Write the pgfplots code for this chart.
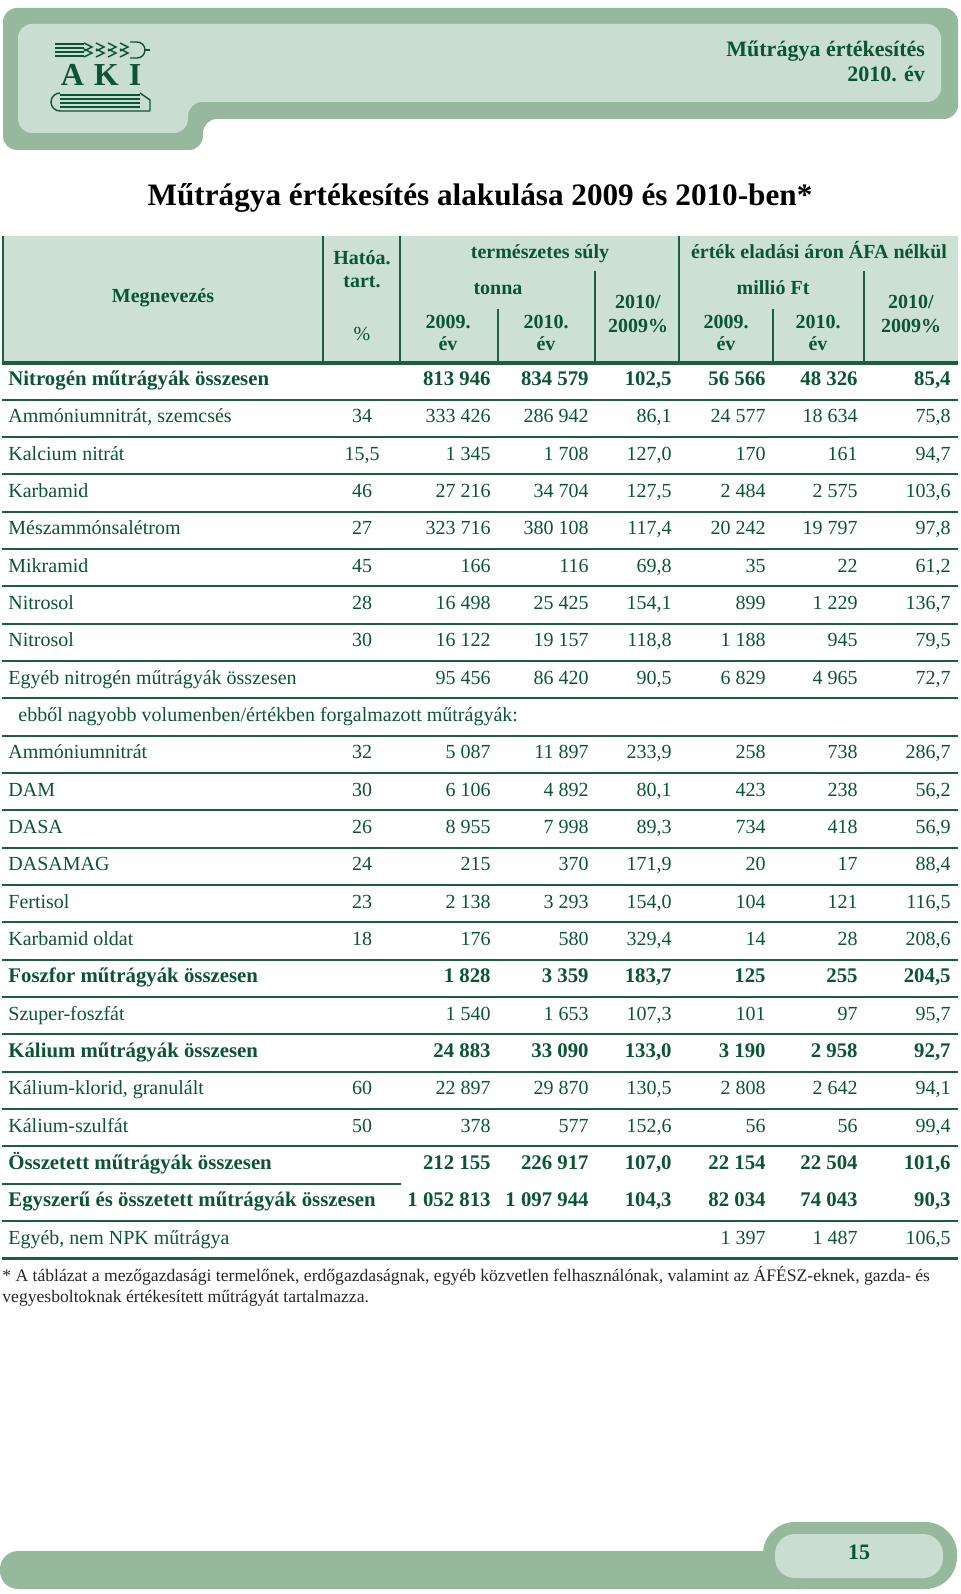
\documentclass[border=0pt]{standalone}
\usepackage{fontspec}
\setmainfont{Liberation Serif}
\usepackage{pgfplots}
\usepackage{pgfplotstable}
\pgfplotsset{compat=1.18}

\definecolor{tgreen}{HTML}{0A5532}
\definecolor{rule}{HTML}{1E5E3E}
\definecolor{band}{HTML}{96B99E}
\definecolor{bandin}{HTML}{C9DED0}
\definecolor{headbg}{HTML}{CDE0D4}

% rows: r = row index (0 = first row under the header)
\pgfplotstableread[col sep=semicolon]{
r;name;hat;ta;tb;tc;va;vb;vc
1;Ammóniumnitrát, szemcsés;34;333 426;286 942;86,1;24 577;18 634;75,8
2;Kalcium nitrát;15,5;1 345;1 708;127,0;170;161;94,7
3;Karbamid;46;27 216;34 704;127,5;2 484;2 575;103,6
4;Mészammónsalétrom;27;323 716;380 108;117,4;20 242;19 797;97,8
5;Mikramid;45;166;116;69,8;35;22;61,2
6;Nitrosol;28;16 498;25 425;154,1;899;1 229;136,7
7;Nitrosol;30;16 122;19 157;118,8;1 188;945;79,5
8;Egyéb nitrogén műtrágyák összesen;{};95 456;86 420;90,5;6 829;4 965;72,7
10;Ammóniumnitrát;32;5 087;11 897;233,9;258;738;286,7
11;DAM;30;6 106;4 892;80,1;423;238;56,2
12;DASA;26;8 955;7 998;89,3;734;418;56,9
13;DASAMAG;24;215;370;171,9;20;17;88,4
14;Fertisol;23;2 138;3 293;154,0;104;121;116,5
15;Karbamid oldat;18;176;580;329,4;14;28;208,6
17;Szuper-foszfát;{};1 540;1 653;107,3;101;97;95,7
19;Kálium-klorid, granulált;60;22 897;29 870;130,5;2 808;2 642;94,1
20;Kálium-szulfát;50;378;577;152,6;56;56;99,4
23;Egyéb, nem NPK műtrágya;{};{};{};{};1 397;1 487;106,5
}\rowsnormal

\pgfplotstableread[col sep=semicolon]{
r;name;hat;ta;tb;tc;va;vb;vc
0;Nitrogén műtrágyák összesen;{};813 946;834 579;102,5;56 566;48 326;85,4
16;Foszfor műtrágyák összesen;{};1 828;3 359;183,7;125;255;204,5
18;Kálium műtrágyák összesen;{};24 883;33 090;133,0;3 190;2 958;92,7
21;Összetett műtrágyák összesen;{};212 155;226 917;107,0;22 154;22 504;101,6
22;Egyszerű és összetett műtrágyák összesen;{};1 052 813;1 097 944;104,3;82 034;74 043;90,3
}\rowsbold

\pgfplotsset{
  cell/.style 2 args={draw=none, mark=none, nodes near coords,
    point meta=explicit symbolic,
    every node near coord/.append style={inner sep=0pt, text=tgreen,
      font=#2, anchor=#1}},
}
\newcommand\bodyfont{\fontsize{10}{12}\selectfont}
\newcommand\boldfont{\fontsize{10.4}{12}\selectfont\bfseries}
\newcommand\rowy{381+37.33*\thisrow{r}}

\newcommand\tablerows[2]{%
  \addplot[cell={mid west}{#2}] table[x expr=8, y expr=\rowy, meta=name]{#1};
  \addplot[cell={mid}{#2}] table[x expr=362, y expr=\rowy, meta=hat]{#1};
  \addplot[cell={mid east}{#2}] table[x expr=491, y expr=\rowy, meta=ta]{#1};
  \addplot[cell={mid east}{#2}] table[x expr=589, y expr=\rowy, meta=tb]{#1};
  \addplot[cell={mid east}{#2}] table[x expr=672, y expr=\rowy, meta=tc]{#1};
  \addplot[cell={mid east}{#2}] table[x expr=766, y expr=\rowy, meta=va]{#1};
  \addplot[cell={mid east}{#2}] table[x expr=858, y expr=\rowy, meta=vb]{#1};
  \addplot[cell={mid east}{#2}] table[x expr=951, y expr=\rowy, meta=vc]{#1};
}

\begin{document}
\begin{tikzpicture}
\begin{axis}[
  width=480pt, height=797pt, scale only axis,
  xmin=0, xmax=960, ymin=0, ymax=1594, y dir=reverse,
  hide axis, clip=false,
]
\path (axis cs:0,0) rectangle (axis cs:960,1594);

% header band
\fill[band, rounded corners=7pt] (axis cs:3,8) -- (axis cs:958,8) -- (axis cs:958,119)
  -- (axis cs:203,119) -- (axis cs:203,150) -- (axis cs:3,150) -- cycle;
\fill[bandin, rounded corners=7pt] (axis cs:18,24) -- (axis cs:941,24) -- (axis cs:941,102)
  -- (axis cs:188,102) -- (axis cs:188,133) -- (axis cs:18,133) -- cycle;

% logo
\pgfplotsinvokeforeach{44,48,52,56}{
  \draw[tgreen, line width=0.7pt] (axis cs:55,#1) -- (axis cs:84,#1);
}
\pgfplotsinvokeforeach{84,96,108,120}{
  \draw[tgreen, line width=0.7pt] (axis cs:#1,43) -- (axis cs:{#1+8},47) -- (axis cs:#1,51)
    (axis cs:#1,49) -- (axis cs:{#1+8},53) -- (axis cs:#1,57);
}
\draw[tgreen, line width=0.7pt] (axis cs:130,42) -- (axis cs:137,42) arc[start angle=90, end angle=-90, radius=4pt] -- (axis cs:130,58);
\draw[tgreen, line width=0.7pt] (axis cs:145,50) -- (axis cs:150,50);
\node[text=tgreen, font=\fontsize{16}{16}\selectfont\bfseries, anchor=base, inner sep=0pt] at (axis cs:101,86) {A\hspace{5pt}K\hspace{5pt}I};
\pgfplotsinvokeforeach{95,99,103,107}{
  \draw[tgreen, line width=0.7pt] (axis cs:60,#1) -- (axis cs:140,#1);
}
\draw[tgreen, line width=0.7pt] (axis cs:60,93) arc[start angle=90, end angle=270, radius=4.5pt] -- (axis cs:150,111);
\draw[tgreen, line width=0.7pt] (axis cs:140,93) -- (axis cs:150,100) -- (axis cs:150,111);

\node[text=tgreen, font=\fontsize{11}{13}\selectfont\bfseries, anchor=mid east] at (axis cs:932,52) {Műtrágya értékesítés};
\node[text=tgreen, font=\fontsize{11}{13}\selectfont\bfseries, anchor=mid east] at (axis cs:932,77) {2010. év};

% title
\node[font=\fontsize{15.6}{17}\selectfont\bfseries, anchor=mid] at (axis cs:480,201) {Műtrágya értékesítés alakulása 2009 és 2010-ben*};

% table header
\fill[headbg] (axis cs:2,236) rectangle (axis cs:958,363);
\begin{scope}[rule, line width=0.7pt]
  \draw (axis cs:3,236) -- (axis cs:3,363);
  \draw (axis cs:323,236) -- (axis cs:323,363);
  \draw (axis cs:400,236) -- (axis cs:400,363);
  \draw (axis cs:679,236) -- (axis cs:679,363);
  \draw (axis cs:595,271) -- (axis cs:595,363);
  \draw (axis cs:864,271) -- (axis cs:864,363);
  \draw (axis cs:498,309) -- (axis cs:498,363);
  \draw (axis cs:773,309) -- (axis cs:773,363);
\end{scope}
\draw[rule, line width=1.6pt] (axis cs:2,363) -- (axis cs:958,363);

\begin{scope}[every node/.style={text=tgreen, font=\fontsize{10}{11}\selectfont\bfseries, anchor=mid, inner sep=0pt}]
  \node at (axis cs:163,298) {Megnevezés};
  \node at (axis cs:362,260) {Hatóa.};
  \node at (axis cs:362,283) {tart.};
  \node[font=\fontsize{10}{11}\selectfont] at (axis cs:362,336) {\%};
  \node at (axis cs:540,254) {természetes súly};
  \node at (axis cs:498,290) {tonna};
  \node at (axis cs:448,324) {2009.};
  \node at (axis cs:448,346) {év};
  \node at (axis cs:546,324) {2010.};
  \node at (axis cs:546,346) {év};
  \node at (axis cs:638,304) {2010/};
  \node at (axis cs:638,328) {2009\%};
  \node at (axis cs:819,254) {érték eladási áron ÁFA nélkül};
  \node at (axis cs:773,290) {millió Ft};
  \node at (axis cs:726,324) {2009.};
  \node at (axis cs:726,346) {év};
  \node at (axis cs:818,324) {2010.};
  \node at (axis cs:818,346) {év};
  \node at (axis cs:911,304) {2010/};
  \node at (axis cs:911,328) {2009\%};
\end{scope}

% row rules
\pgfplotsinvokeforeach{0,...,20,22}{
  \draw[rule, line width=1pt] (axis cs:2,{381+37.33*(#1+0.5)}) -- (axis cs:958,{381+37.33*(#1+0.5)});
}
\draw[rule, line width=1pt] (axis cs:2,{381+37.33*21.5}) -- (axis cs:401,{381+37.33*21.5});
\draw[rule, line width=1.5pt] (axis cs:2,{381+37.33*23.5}) -- (axis cs:958,{381+37.33*23.5});

% table body
\tablerows{\rowsnormal}{\bodyfont}
\tablerows{\rowsbold}{\boldfont}
\node[text=tgreen, font=\bodyfont, anchor=mid west, inner sep=0pt] at (axis cs:18,{381+37.33*9}) {ebből nagyobb volumenben/értékben forgalmazott műtrágyák:};

% footnote
\node[text=black!85, font=\fontsize{8.8}{10}\selectfont, anchor=mid west, inner sep=0pt] at (axis cs:2,1277)
  {* A táblázat a mezőgazdasági termelőnek, erdőgazdaságnak, egyéb közvetlen felhasználónak, valamint az ÁFÉSZ-eknek, gazda- és};
\node[text=black!85, font=\fontsize{8.8}{10}\selectfont, anchor=mid west, inner sep=0pt] at (axis cs:2,1298)
  {vegyesboltoknak értékesített műtrágyát tartalmazza.};

% footer band
\fill[band, rounded corners=9pt] (axis cs:0,1551) rectangle (axis cs:820,1589);
\fill[band, rounded corners=16pt] (axis cs:763,1522) rectangle (axis cs:957,1589);
\fill[bandin, rounded corners=10pt] (axis cs:775,1534) rectangle (axis cs:943,1578);
\node[text=tgreen, font=\fontsize{11}{13}\selectfont\bfseries, anchor=mid] at (axis cs:859,1555) {15};
\end{axis}
\end{tikzpicture}
\end{document}
